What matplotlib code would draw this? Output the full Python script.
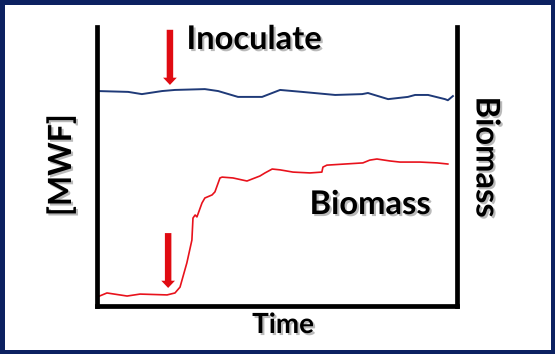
import numpy as np
import matplotlib
matplotlib.use('Agg')
import matplotlib.pyplot as plt
from matplotlib.patches import Rectangle
import matplotlib.patheffects as pe

# data (arbitrary units)
mwf_t = [0.4, 8.8, 12.6, 18.2, 21.8, 30.1, 33.8, 39.3, 46.0, 51.0, 57.1,
         66.3, 73.8, 75.4, 81.0, 86.5, 88.5, 92.1, 96.8, 97.6, 99.0]
mwf_v = [77.0, 76.7, 75.9, 77.0, 77.4, 77.7, 77.0, 74.9, 74.9, 77.4, 76.7,
         75.6, 75.9, 76.3, 74.1, 74.9, 75.6, 75.6, 74.1, 73.7, 75.2]

bio_t = [0.1, 2.9, 8.5, 12.1, 19.6, 21.8, 23.2, 25.1, 26.5, 26.8, 27.4, 27.9,
         29.3, 30.1, 32.1, 32.9, 34.3, 34.9, 37.9, 41.8, 45.4, 46.8, 48.8,
         51.0, 54.6, 59.3, 62.6, 62.9, 64.0, 74.0, 75.9, 77.9, 81.5, 84.3,
         89.9, 94.6, 97.6]
bio_v = [3.0, 4.5, 3.4, 4.1, 3.8, 4.5, 6.6, 15.3, 23.5, 31.4, 32.5, 31.8,
         36.8, 38.6, 39.7, 40.8, 45.8, 46.1, 45.8, 44.7, 46.5, 47.6, 49.0,
         48.7, 47.9, 47.6, 47.9, 49.7, 50.4, 51.2, 52.2, 52.6, 51.9, 51.5,
         51.5, 51.2, 50.8]

# inoculation arrows: (time, start, end)
arrows = [(20.4, 99.0, 79.2), (19.9, 26.0, 6.3)]

W, H = 555, 363
fig = plt.figure(figsize=(W / 100, H / 100), dpi=100, facecolor='white')

# navy frame, behind everything
navy = '#0c2161'
fig.patches.append(Rectangle((0, 9 / H), 1, 1 - 9 / H, transform=fig.transFigure,
                             facecolor=navy, edgecolor='none', zorder=-2))
fig.patches.append(Rectangle((4.5 / W, 13.5 / H), 1 - 9 / W, 1 - 18 / H,
                             transform=fig.transFigure, facecolor='white',
                             edgecolor='none', zorder=-1))

ax = fig.add_axes([96.5 / W, 1 - 305.5 / H, 360 / W, 278.5 / H])
ax.patch.set_alpha(0)
ax.set_xlim(0, 100)
ax.set_ylim(0, 100)
for s in ['left', 'right', 'bottom']:
    ax.spines[s].set_linewidth(3.4)
    ax.spines[s].set_color('black')
ax.spines['top'].set_visible(False)
ax.set_xticks([])
ax.set_yticks([])

ax.plot(mwf_t, mwf_v, color='#1f3a78', lw=1.4, clip_on=False)
ax.plot(bio_t, bio_v, color='#e8121c', lw=1.2, clip_on=False)

for t, y0, y1 in arrows:
    ax.arrow(t, y0, 0, y1 - y0, width=1.8, head_width=3.8, head_length=2.6,
             length_includes_head=True, color='#e00b12', lw=0, clip_on=False)

shadow = [pe.SimplePatchShadow(offset=(1.5, -1.5), shadow_rgbFace='#777777', alpha=0.5),
          pe.Normal()]
kw = dict(family='Lato', weight='bold', color='black', path_effects=shadow)

fig.text(254 / W, 1 - 49 / H, 'Inoculate', ha='center', va='baseline', fontsize=23.5, **kw)
fig.text(370 / W, 1 - 214 / H, 'Biomass', ha='center', va='baseline', fontsize=23.5, **kw)
fig.text(283 / W, 1 - 333 / H, 'Time', ha='center', va='baseline', fontsize=20, **kw)
fig.text(61 / W, 1 - 165 / H, '[MWF]', ha='center', va='center', rotation=90,
         fontsize=23, **kw)
fig.text(486 / W, 1 - 157 / H, 'Biomass', ha='center', va='center', rotation=-90,
         fontsize=23.5, **kw)

fig.savefig('out.png', dpi=100)
